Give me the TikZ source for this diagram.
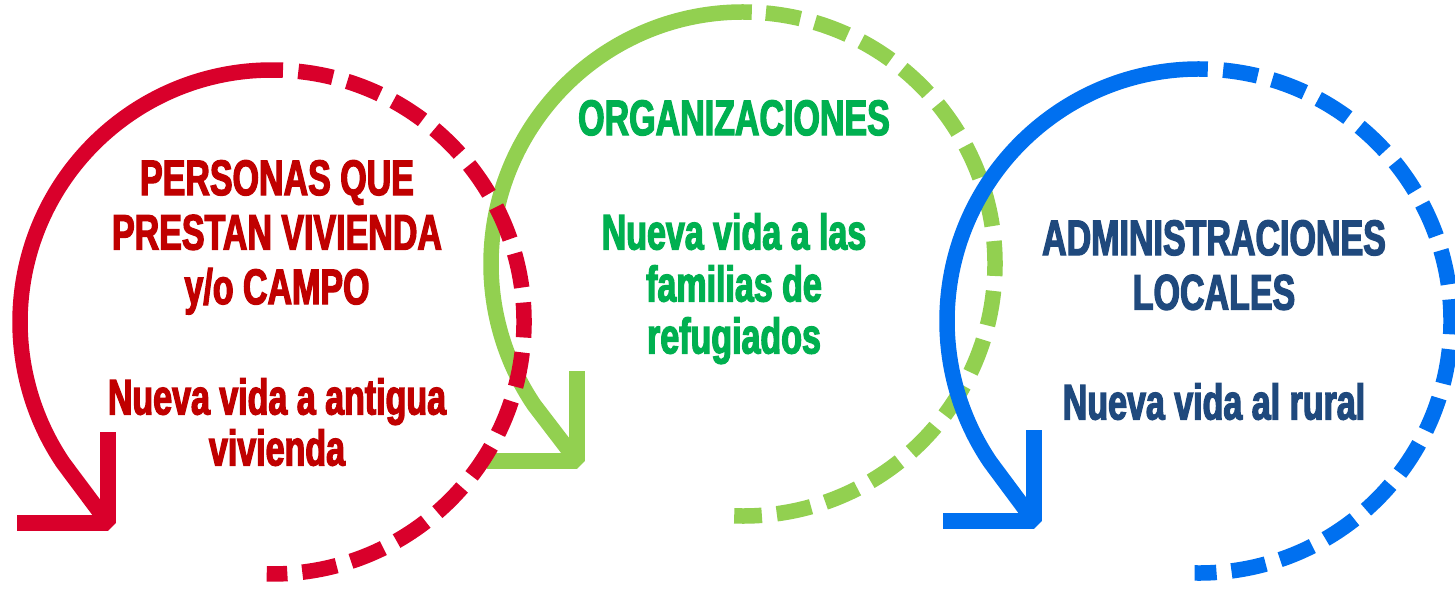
\documentclass[tikz,border=0pt]{standalone}
\usepackage{fontspec}
\newfontfamily\imp[FakeStretch=0.68,FakeBold=2.5]{Liberation Sans Bold}
\usetikzlibrary{calc}
\definecolor{rline}{RGB}{217,0,43}
\definecolor{rtext}{RGB}{192,0,0}
\definecolor{gline}{RGB}{146,208,80}
\definecolor{gtext}{RGB}{0,176,80}
\definecolor{bline}{RGB}{0,112,240}
\definecolor{btext}{RGB}{31,73,125}
\tikzset{
  ring/.style={line width=15.5pt, line cap=butt},
  dashring/.style={ring, dash pattern=on 35pt off 15pt},
  arms/.style={line width=16pt, line join=bevel, line cap=butt},
  ttl/.style={font=\imp\fontsize{50}{54.5}\selectfont, align=center, inner sep=0pt, anchor=north},
  sub/.style={font=\imp\fontsize{50}{51}\selectfont, align=center, inner sep=0pt, anchor=north}
}
\begin{document}
\begin{tikzpicture}[x=1pt,y=1pt]
\useasboundingbox (0,0) rectangle (1455,590);
\fill[white] (0,0) rectangle (1455,590);
% centres and arrow corners
\coordinate (rc) at (272,268);
\coordinate (rk) at (108,67);
\coordinate (gc) at (743,326);
\coordinate (gk) at (577,129);
\coordinate (bc) at (1199,269);
\coordinate (bk) at (1034,69);
% green ring
\draw[ring, gline] ($(gc)+(88:252)$) arc[start angle=88, end angle=214, radius=252] -- (gk);
\draw[arms, gline] ($(gk)+(0,90)$) -- (gk) -- ($(gk)+(-90,0)$);
\draw[dashring, gline] ($(gc)+(84.8:252)$) arc[start angle=84.8, end angle=-92, radius=252];
% red ring
\draw[ring, rline] ($(rc)+(87.5:252)$) arc[start angle=87.5, end angle=214, radius=252] -- (rk);
\draw[arms, rline] ($(rk)+(0,91)$) -- (rk) -- ($(rk)+(-91,0)$);
\draw[dashring, rline] ($(rc)+(84:252)$) arc[start angle=84, end angle=-91.2, radius=252];
% blue ring
\draw[ring, bline] ($(bc)+(88:252)$) arc[start angle=88, end angle=214, radius=252] -- (bk);
\draw[arms, bline] ($(bk)+(0,91)$) -- (bk) -- ($(bk)+(-91,0)$);
\draw[dashring, bline] ($(bc)+(84.5:252)$) arc[start angle=84.5, end angle=-91, radius=252];
% texts
\node[ttl, text=rtext] (rt) at (277,430) {PERSONAS QUE\\PRESTAN VIVIENDA\\y/o CAMPO};
\node[sub, text=rtext] (rs) at (277,212) {Nueva vida a antigua\\vivienda};
\node[ttl, text=gtext] (gt) at (734,490) {ORGANIZACIONES};
\node[sub, text=gtext, font=\imp\fontsize{50}{52}\selectfont] (gs) at (734,377) {Nueva vida a las\\familias de\\refugiados};
\node[ttl, text=btext] (bt) at (1214,370) {ADMINISTRACIONES\\LOCALES};
\node[sub, text=btext] (bs) at (1214,207) {Nueva vida al rural};
\end{tikzpicture}
\end{document}
